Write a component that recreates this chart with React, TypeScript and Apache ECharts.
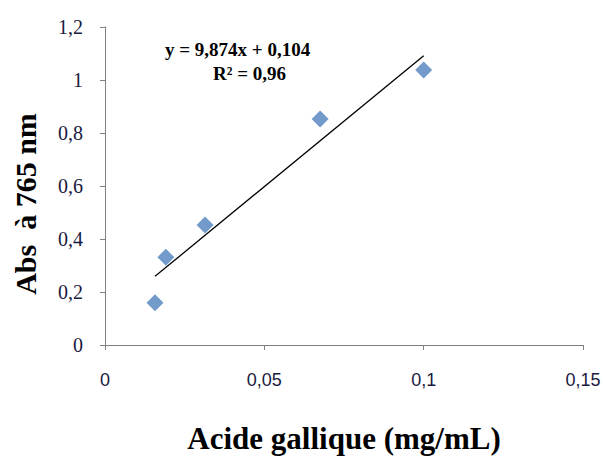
import React, { useEffect, useRef } from "react";
import * as echarts from "echarts";

const xValues = [0.0157, 0.0191, 0.0314, 0.0675, 0.1];
const yValues = [0.159, 0.331, 0.453, 0.853, 1.038];
const slope = 9.874;
const intercept = 0.104;
const xTicks = [0, 0.05, 0.1, 0.15];

const fmt = (v: number) => String(v).replace(".", ",");

export default function App() {
  const ref = useRef<HTMLDivElement>(null);
  useEffect(() => {
    const chart = echarts.init(ref.current!, null, { renderer: "svg" });
    const x0 = Math.min(...xValues);
    const x1 = Math.max(...xValues);
    const font = "Liberation Serif";
    chart.setOption({
      animation: false,
      textStyle: { fontFamily: font },
      grid: { left: 105, right: 22, top: 27, bottom: 106 },
      xAxis: {
        type: "value", min: 0, max: xTicks[xTicks.length - 1], interval: 0.05,
        axisLine: { show: true, lineStyle: { color: "#808080" } },
        axisTick: { show: true, length: 5, lineStyle: { color: "#808080" } },
        splitLine: { show: false },
        axisLabel: { color: "#1a1a40", fontSize: 18, fontFamily: "Liberation Sans", margin: 26, formatter: fmt },
        name: "Acide gallique (mg/mL)", nameLocation: "middle", nameGap: 78,
        nameTextStyle: { color: "#000", fontSize: 31, fontWeight: "bold", fontFamily: font },
      },
      yAxis: {
        type: "value", min: 0, max: 1.2, interval: 0.2,
        axisLine: { show: true, lineStyle: { color: "#808080" } },
        axisTick: { show: true, length: 5, lineStyle: { color: "#808080" } },
        splitLine: { show: false },
        axisLabel: { color: "#1a1a40", fontSize: 20, fontFamily: font, margin: 22, formatter: (v: number) => fmt(Number(v.toFixed(1))) },
        name: "Abs  à 765 nm", nameLocation: "middle", nameGap: 65,
        nameTextStyle: { color: "#000", fontSize: 30, fontWeight: "bold", fontFamily: font, padding: [0, 0, 0, -36] },
      },
      series: [
        {
          type: "line", symbol: "none", silent: true,
          lineStyle: { color: "#000", width: 1.3 },
          data: [[x0, slope * x0 + intercept], [x1, slope * x1 + intercept]],
        },
        {
          type: "scatter", symbol: "diamond", symbolSize: 17,
          itemStyle: { color: "#4f81bd" },
          data: xValues.map((x, i) => [x, yValues[i]]),
        },
      ],
      graphic: [
        { type: "text", left: 165, top: 40, style: { text: "y = 9,874x + 0,104", fontFamily: font, fontSize: 19, fontWeight: "bold", fill: "#000" } },
        { type: "text", left: 213, top: 64, style: { text: "R² = 0,96", fontFamily: font, fontSize: 19, fontWeight: "bold", fill: "#000" } },
      ],
    });
    return () => chart.dispose();
  }, []);
  return <div ref={ref} style={{ width: 605, height: 459, position: "absolute", left: 0, top: 0, background: "#fff" }} />;
}
